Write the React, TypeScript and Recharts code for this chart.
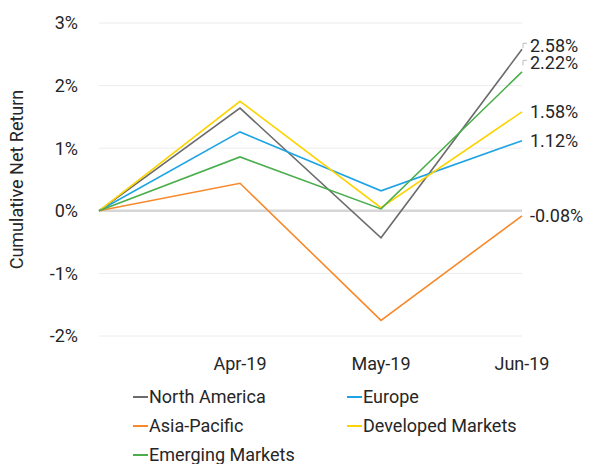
import { LineChart, Line, XAxis, YAxis, CartesianGrid, ReferenceLine, Legend } from 'recharts';

const months = ['', 'Apr-19', 'May-19', 'Jun-19'];

const northAmerica = [0, 1.64, -0.43, 2.58];
const europe = [0, 1.26, 0.32, 1.12];
const asiaPacific = [0, 0.44, -1.75, -0.08];
const developed = [0, 1.75, 0.05, 1.58];
const emerging = [0, 0.86, 0.03, 2.22];

const yTicks = [-2, -1, 0, 1, 2, 3];

const series = [
  { key: 'na', name: 'North America', values: northAmerica, color: '#6b6b6b', nudge: -4 },
  { key: 'eu', name: 'Europe', values: europe, color: '#1ea4e4', nudge: 0 },
  { key: 'ap', name: 'Asia-Pacific', values: asiaPacific, color: '#f7892b', nudge: 0 },
  { key: 'dm', name: 'Developed Markets', values: developed, color: '#fdd300', nudge: 0 },
  { key: 'em', name: 'Emerging Markets', values: emerging, color: '#4aae4c', nudge: -9.5 },
];

const data = months.map((m, i) => {
  const row: Record<string, string | number> = { month: m };
  series.forEach((s) => {
    row[s.key] = s.values[i];
  });
  return row;
});

const FONT = 'Roboto, "DejaVu Sans", sans-serif';
const TEXT = '#262626';

function endLabel(nudge: number) {
  return (props: any) => {
    const { x, y, value, index } = props;
    if (index !== months.length - 1) return null;
    const c = y + nudge;
    return (
      <g>
        {nudge !== 0 && (
          <path d={`M${x + 1},${c + 3} V${c - 2} H${x + 5}`} stroke="#bdbdbd" strokeWidth={1} fill="none" />
        )}
        <text x={x + 8} y={c} dy="0.355em" fill={TEXT} fontSize={18} fontFamily={FONT}>
          {`${Number(value).toFixed(2)}%`}
        </text>
      </g>
    );
  };
}

function LegendBox() {
  return (
    <div
      style={{
        display: 'grid',
        gridTemplateColumns: '214px 214px',
        paddingLeft: 133,
        paddingTop: 6,
        fontFamily: FONT,
        fontSize: 18,
        color: TEXT,
        lineHeight: '29px',
      }}
    >
      {series.map((s) => (
        <div key={s.key} style={{ display: 'flex', alignItems: 'center', height: 29, whiteSpace: 'nowrap' }}>
          <span style={{ display: 'inline-block', width: 15, height: 2, background: s.color, marginRight: 1 }} />
          <span>{s.name}</span>
        </div>
      ))}
    </div>
  );
}

export default function App() {
  return (
    <div style={{ position: 'absolute', left: 0, top: 0, width: 597, height: 464, overflow: 'hidden', background: '#fff' }}>
      <LineChart width={597} height={464} data={data} margin={{ top: 23, right: 75, bottom: 0, left: 0 }}>
        <CartesianGrid vertical={false} stroke="#ececec" strokeWidth={1} />
        <XAxis
          dataKey="month"
          interval={0}
          axisLine={false}
          tickLine={false}
          height={40}
          tickMargin={15}
          padding={{ left: 0, right: 0 }}
          tick={{ fill: TEXT, fontSize: 18, fontFamily: FONT }}
        />
        <YAxis
          width={99}
          domain={[-2, 3]}
          ticks={yTicks}
          axisLine={false}
          tickLine={false}
          tickMargin={15}
          tickFormatter={(v: number) => `${v}%`}
          tick={{ fill: TEXT, fontSize: 18, fontFamily: FONT }}
          label={{
            value: 'Cumulative Net Return',
            angle: -90,
            position: 'insideLeft',
            dx: 12,
            dy: 0,
            style: { textAnchor: 'middle', fill: TEXT, fontSize: 18, fontFamily: FONT },
          }}
        />
        <ReferenceLine y={0} stroke="#d6d6d6" strokeWidth={2.5} />
        {series.map((s) => (
          <Line
            key={s.key}
            dataKey={s.key}
            name={s.name}
            type="linear"
            stroke={s.color}
            strokeWidth={1.6}
            dot={false}
            activeDot={false}
            isAnimationActive={false}
            label={endLabel(s.nudge)}
          />
        ))}
        <Legend
          verticalAlign="bottom"
          content={() => <LegendBox />}
          wrapperStyle={{ left: 0, width: 597, height: 88 }}
        />
      </LineChart>
    </div>
  );
}
